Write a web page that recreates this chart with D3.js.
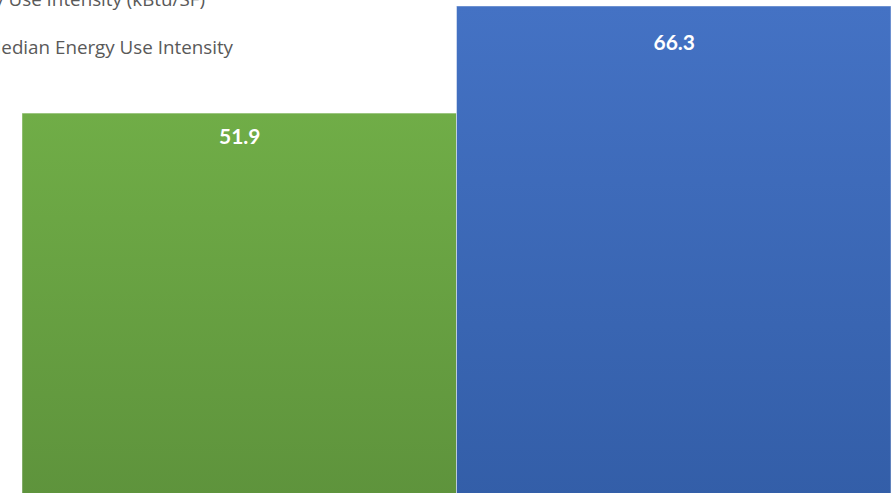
<!DOCTYPE html>
<html>
<head>
<meta charset="utf-8">
<script src="https://cdn.jsdelivr.net/npm/d3@7/dist/d3.min.js"></script>
<style>
  html, body { margin: 0; padding: 0; background: #ffffff; overflow: hidden; }
  svg { display: block; }
</style>
</head>
<body>
<svg id="chart" width="894" height="493"></svg>
<script>
// ---- data ----
const categories = ["Median Energy Use Intensity", "Site Energy Use Intensity (kBtu/SF)"];
const values = [51.9, 66.3];
const valueLabels = ["51.9", "66.3"];
const legendLabels = ["Site Energy Use Intensity (kBtu/SF)", "Median Energy Use Intensity"];

// ---- styles ----
const topColors = ["#70ad47", "#4472c4"];
const bottomColors = ["#5e933c", "#335ea8"];
const labelDy = [31, 44];

const svg = d3.select("#chart");

const x = d3.scaleBand().domain(categories).range([22, 891]).padding(0);
const y = d3.scaleLinear().domain([0, 66.3]).range([499, 6]);

const defs = svg.append("defs");
categories.forEach((c, i) => {
  const g = defs.append("linearGradient")
    .attr("id", "grad" + i)
    .attr("x1", 0).attr("y1", 0).attr("x2", 0).attr("y2", 1);
  g.append("stop").attr("offset", "0%").attr("stop-color", topColors[i]);
  g.append("stop").attr("offset", "100%").attr("stop-color", bottomColors[i]);
});

// bars
svg.selectAll("rect.bar")
  .data(values)
  .join("rect")
  .attr("class", "bar")
  .attr("x", (d, i) => x(categories[i]))
  .attr("y", d => y(d))
  .attr("width", x.bandwidth())
  .attr("height", d => y(0) - y(d))
  .attr("fill", (d, i) => `url(#grad${i})`)
  .attr("stroke", "rgba(255,255,255,0.45)")
  .attr("stroke-width", 1);

// value labels
svg.selectAll("text.val")
  .data(values)
  .join("text")
  .attr("class", "val")
  .attr("x", (d, i) => x(categories[i]) + x.bandwidth() / 2 + 0.5)
  .attr("y", (d, i) => y(d) + labelDy[i])
  .attr("text-anchor", "middle")
  .attr("font-family", "Lato, 'Open Sans', sans-serif")
  .attr("font-weight", "bold")
  .attr("font-size", 21)
  .attr("fill", "#ffffff")
  .text((d, i) => valueLabels[i]);

// legend text (partially cut off at left/top, as in the reference)
const legendRightX = [205, 233];
const legendBaseline = [6, 54];
svg.selectAll("text.leg")
  .data(legendLabels)
  .join("text")
  .attr("class", "leg")
  .attr("x", (d, i) => legendRightX[i])
  .attr("y", (d, i) => legendBaseline[i])
  .attr("text-anchor", "end")
  .attr("font-family", "'Open Sans', sans-serif")
  .attr("font-size", 18.8)
  .attr("fill", "#595959")
  .text(d => d);
</script>
</body>
</html>
